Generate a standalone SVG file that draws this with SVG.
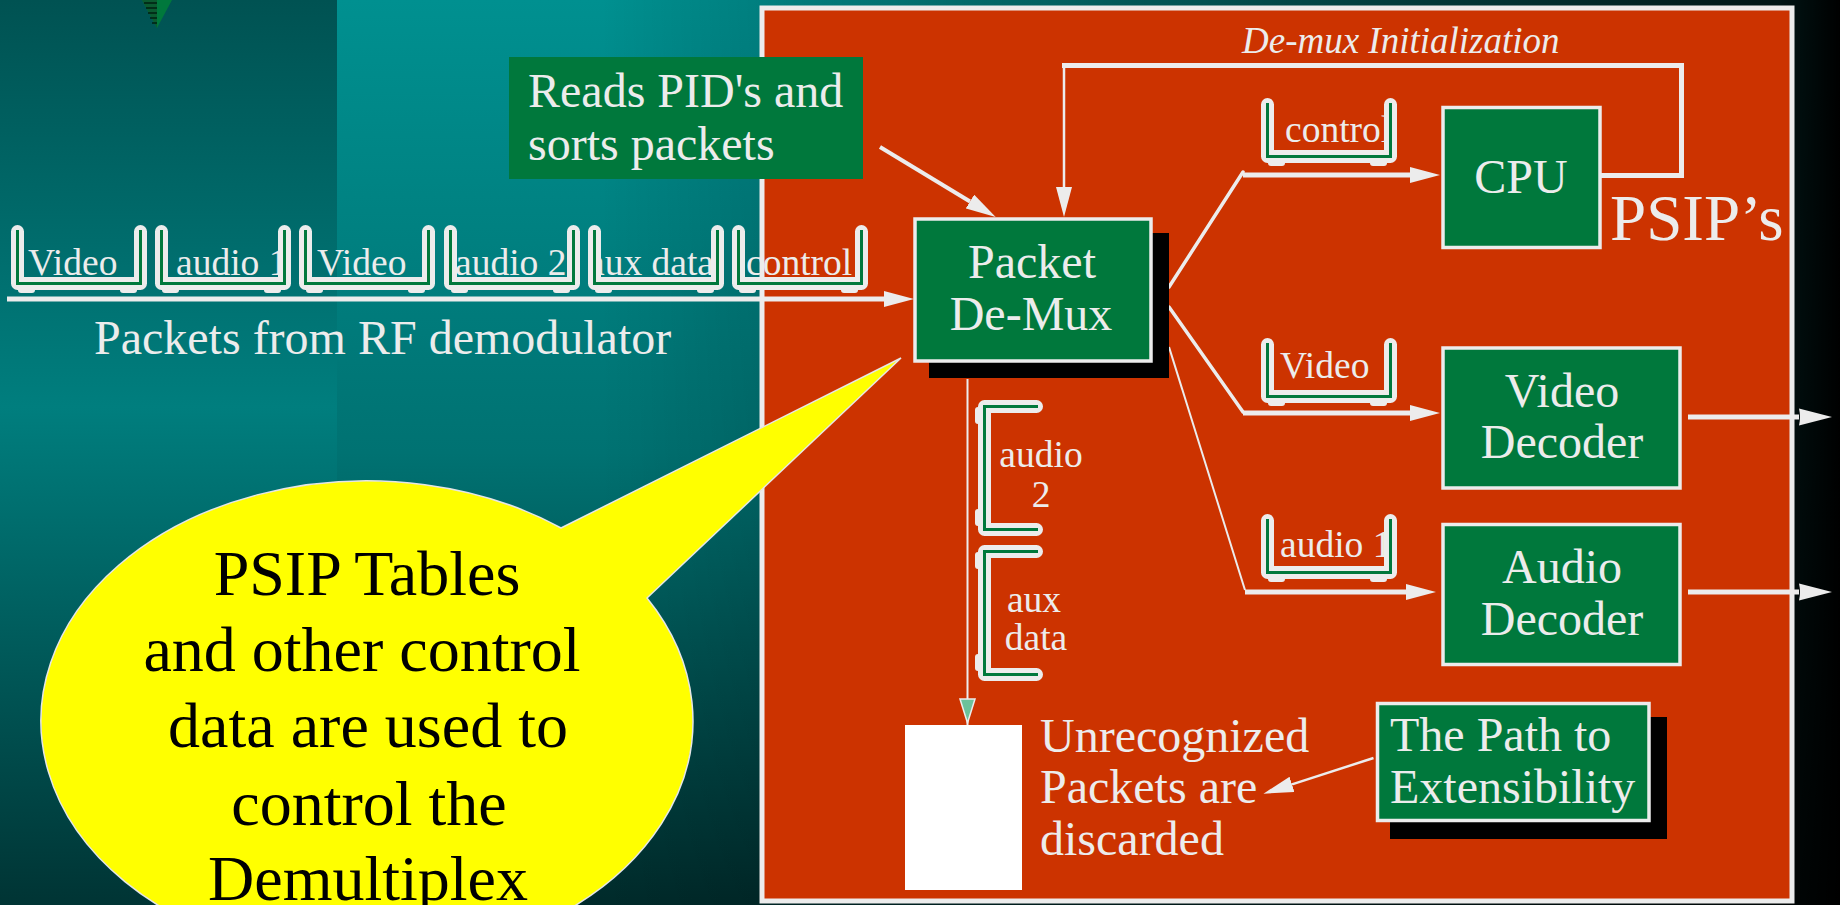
<svg xmlns="http://www.w3.org/2000/svg" width="1840" height="905" viewBox="0 0 1840 905">
  <defs>
    <linearGradient id="bgRight" x1="0" y1="0" x2="0" y2="1">
      <stop offset="0" stop-color="#009090"/>
      <stop offset="0.5" stop-color="#007272"/>
      <stop offset="1" stop-color="#002a2a"/>
    </linearGradient>
    <linearGradient id="bgLeft" x1="0" y1="0" x2="0" y2="1">
      <stop offset="0" stop-color="#005252"/>
      <stop offset="0.45" stop-color="#007e7e"/>
      <stop offset="1" stop-color="#003434"/>
    </linearGradient>
    <linearGradient id="fade" gradientUnits="userSpaceOnUse" x1="600" y1="0" x2="1840" y2="0">
      <stop offset="0" stop-color="#000" stop-opacity="0"/>
      <stop offset="0.6" stop-color="#000" stop-opacity="0.55"/>
      <stop offset="0.95" stop-color="#000" stop-opacity="0.85"/>
      <stop offset="1" stop-color="#000" stop-opacity="1"/>
    </linearGradient>
    <marker id="arrow" viewBox="0 -8 30 16" refX="0" refY="0" markerWidth="30" markerHeight="16" markerUnits="userSpaceOnUse" orient="auto">
      <path d="M0,-8 L30,0 L0,8 Z" fill="#ececec"/>
    </marker>
    <marker id="arrowOut" viewBox="0 -9 33 18" refX="0" refY="0" markerWidth="33" markerHeight="18" markerUnits="userSpaceOnUse" orient="auto">
      <path d="M0,-8.5 L33,0 L0,8.5 Q2,0 0,-8.5 Z" fill="#ececec"/>
    </marker>
    <!-- packet tray: white U with a green centre line and two feet -->
    <g id="tray">
      <rect x="7" y="60" width="17" height="8" rx="3" fill="#ececec"/>
      <rect x="109" y="60" width="17" height="8" rx="3" fill="#ececec"/>
      <path d="M6.5,6.5 V58.5 H129.5 V6.5" fill="none" stroke="#ececec" stroke-width="13" stroke-linecap="round" stroke-linejoin="round"/>
      <path d="M6.5,5 V58.5 H129.5 V5" fill="none" stroke="#00783c" stroke-width="3"/>
    </g>
  </defs>
  <style>
    .t { font-family: "Liberation Serif", "Times New Roman", serif; fill: #ececec; }
    .big { font-size: 48px; }
    .pk { font-size: 37.5px; }
    .mid { text-anchor: middle; }
    .box { fill: #00783c; stroke: #ececec; stroke-width: 3.5; }
    .shadow { fill: #000; }
    .wire { stroke: #ececec; fill: none; }
  </style>

  <!-- background -->
  <rect x="0" y="0" width="1840" height="905" fill="url(#bgRight)"/>
  <rect x="0" y="0" width="337" height="905" fill="url(#bgLeft)"/>
  <rect x="0" y="0" width="1840" height="905" fill="url(#fade)"/>

  <!-- logo fragment -->
  <g id="logo">
    <polygon points="142,0 172,0 157,28" fill="#00783c"/>
    <polygon points="142,0 157,0 157,28" fill="#0b5a30"/>
    <path d="M144,3 H157 M146,8 H157 M148,13 H157 M150,18 H157 M152,23 H157" stroke="#002010" stroke-width="1.6"/>
  </g>

  <!-- receiver panel -->
  <rect id="panel" x="762" y="8" width="1030" height="893" fill="#cc3300" stroke="#ececec" stroke-width="5"/>

  <text class="t" x="1242" y="53" font-size="37" font-style="italic">De-mux Initialization</text>

  <!-- incoming packet stream -->
  <g id="packet-stream">
    <text class="t pk" x="28" y="275">Video</text>
    <use href="#tray" x="11" y="225"/>
    <text class="t pk" x="176" y="275">audio 1</text>
    <use href="#tray" x="155" y="225"/>
    <text class="t pk" x="317" y="275">Video</text>
    <use href="#tray" x="299" y="225"/>
    <text class="t pk" x="455" y="275">audio 2</text>
    <use href="#tray" x="444" y="225"/>
    <text class="t pk" x="588" y="275">aux data</text>
    <use href="#tray" x="588" y="225"/>
    <text class="t pk" x="746" y="275">control</text>
    <use href="#tray" x="732" y="225"/>
    <text class="t big" x="94" y="354">Packets from RF demodulator</text>
  </g>

  <!-- connectors -->
  <g id="connectors" class="wire">
    <line x1="7" y1="299" x2="884" y2="299" stroke-width="5" marker-end="url(#arrow)"/>
    <line x1="880" y1="147" x2="970" y2="201.5" stroke-width="4" marker-end="url(#arrow)"/>
    <!-- initialization loop -->
    <polyline points="1601,175.5 1681.5,175.5 1681.5,65.5 1062,65.5" stroke-width="5"/>
    <line x1="1064" y1="65.5" x2="1064" y2="187" stroke-width="2.5" marker-end="url(#arrow)"/>
    <!-- de-mux outputs -->
    <line x1="1169" y1="287" x2="1243" y2="172" stroke-width="3.5" stroke-linecap="round"/>
    <line x1="1243" y1="175" x2="1410" y2="175" stroke-width="5" marker-end="url(#arrow)"/>
    <line x1="1169" y1="307" x2="1243" y2="412" stroke-width="3.5" stroke-linecap="round"/>
    <line x1="1243" y1="413" x2="1410" y2="413" stroke-width="5" marker-end="url(#arrow)"/>
    <line x1="1169" y1="347" x2="1245" y2="590" stroke-width="2"/>
    <line x1="1245" y1="592" x2="1406" y2="592" stroke-width="5" marker-end="url(#arrow)"/>
    <!-- decoder outputs -->
    <line x1="1688" y1="417" x2="1799" y2="417" stroke-width="5" marker-end="url(#arrowOut)"/>
    <line x1="1688" y1="592" x2="1799" y2="592" stroke-width="5" marker-end="url(#arrowOut)"/>
    <!-- discard path -->
    <line x1="967.5" y1="379" x2="967.5" y2="725" stroke-width="2"/>
    <polygon points="960,699 975,699 967.5,723" fill="#6cc29a" stroke="#ececec" stroke-width="1.5"/>
    <line x1="1373.5" y1="758" x2="1292" y2="784.4" stroke-width="2.5" marker-end="url(#arrow)"/>
  </g>

  <!-- sorted packet trays -->
  <g id="tray-control">
    <text class="t pk" x="1285" y="141.5">control</text>
    <use href="#tray" x="1261" y="98"/>
  </g>
  <g id="tray-video">
    <text class="t pk" x="1280" y="378">Video</text>
    <use href="#tray" x="1261" y="338"/>
  </g>
  <g id="tray-audio1">
    <text class="t pk" x="1280" y="557">audio 1</text>
    <use href="#tray" x="1261" y="514"/>
  </g>
  <g id="tray-audio2">
    <use href="#tray" transform="translate(1043,400) rotate(90)"/>
    <text class="t pk mid" x="1041" y="467">audio</text>
    <text class="t pk mid" x="1041" y="507">2</text>
  </g>
  <g id="tray-aux">
    <use href="#tray" transform="translate(1043,545) rotate(90)"/>
    <text class="t pk mid" x="1034" y="612">aux</text>
    <text class="t pk mid" x="1036" y="650">data</text>
  </g>

  <g id="reads-note">
    <rect x="509" y="57" width="354" height="122" fill="#00783c"/>
    <text class="t big" x="528" y="107">Reads PID's and</text>
    <text class="t big" x="528" y="160">sorts packets</text>
  </g>

  <g id="packet-demux">
    <rect class="shadow" x="929" y="233" width="240" height="145"/>
    <rect class="box" x="915" y="219" width="236" height="142" stroke-width="4"/>
    <text class="t big mid" x="1032" y="278">Packet</text>
    <text class="t big mid" x="1031" y="330">De-Mux</text>
  </g>

  <g id="cpu">
    <rect class="box" x="1443" y="107.5" width="157" height="140"/>
    <text class="t big mid" x="1521" y="193">CPU</text>
    <text class="t" x="1610" y="240" font-size="65">PSIP’s</text>
  </g>

  <g id="video-decoder">
    <rect class="box" x="1443" y="348" width="237" height="140"/>
    <text class="t big mid" x="1562" y="407">Video</text>
    <text class="t big mid" x="1562" y="458">Decoder</text>
  </g>

  <g id="audio-decoder">
    <rect class="box" x="1443" y="524.5" width="237" height="140"/>
    <text class="t big mid" x="1562" y="583">Audio</text>
    <text class="t big mid" x="1562" y="635">Decoder</text>
  </g>

  <g id="discard">
    <rect x="905" y="725" width="117" height="165" fill="#ffffff"/>
    <text class="t big" x="1040" y="752">Unrecognized</text>
    <text class="t big" x="1040" y="803">Packets are</text>
    <text class="t big" x="1040" y="855">discarded</text>
  </g>

  <g id="extensibility">
    <rect class="shadow" x="1390" y="717" width="277" height="122"/>
    <rect class="box" x="1377.5" y="703.5" width="271.5" height="117" stroke-width="3"/>
    <text class="t big" x="1390" y="751">The Path to</text>
    <text class="t big" x="1390" y="803">Extensibility</text>
  </g>

  <!-- callout balloon -->
  <g id="callout">
    <path d="M561,528 L901,358 L647,598 A326,240 0 1 1 561,528 Z" fill="#ffff00" stroke="#e6e6e6" stroke-width="1.5"/>
    <g font-family="Liberation Serif, Times New Roman, serif" font-size="64" fill="#000" text-anchor="middle">
      <text x="367" y="595">PSIP Tables</text>
      <text x="362" y="671">and other control</text>
      <text x="368" y="747">data are used to</text>
      <text x="369" y="825">control the</text>
      <text x="368" y="900">Demultiplex</text>
    </g>
  </g>
</svg>
